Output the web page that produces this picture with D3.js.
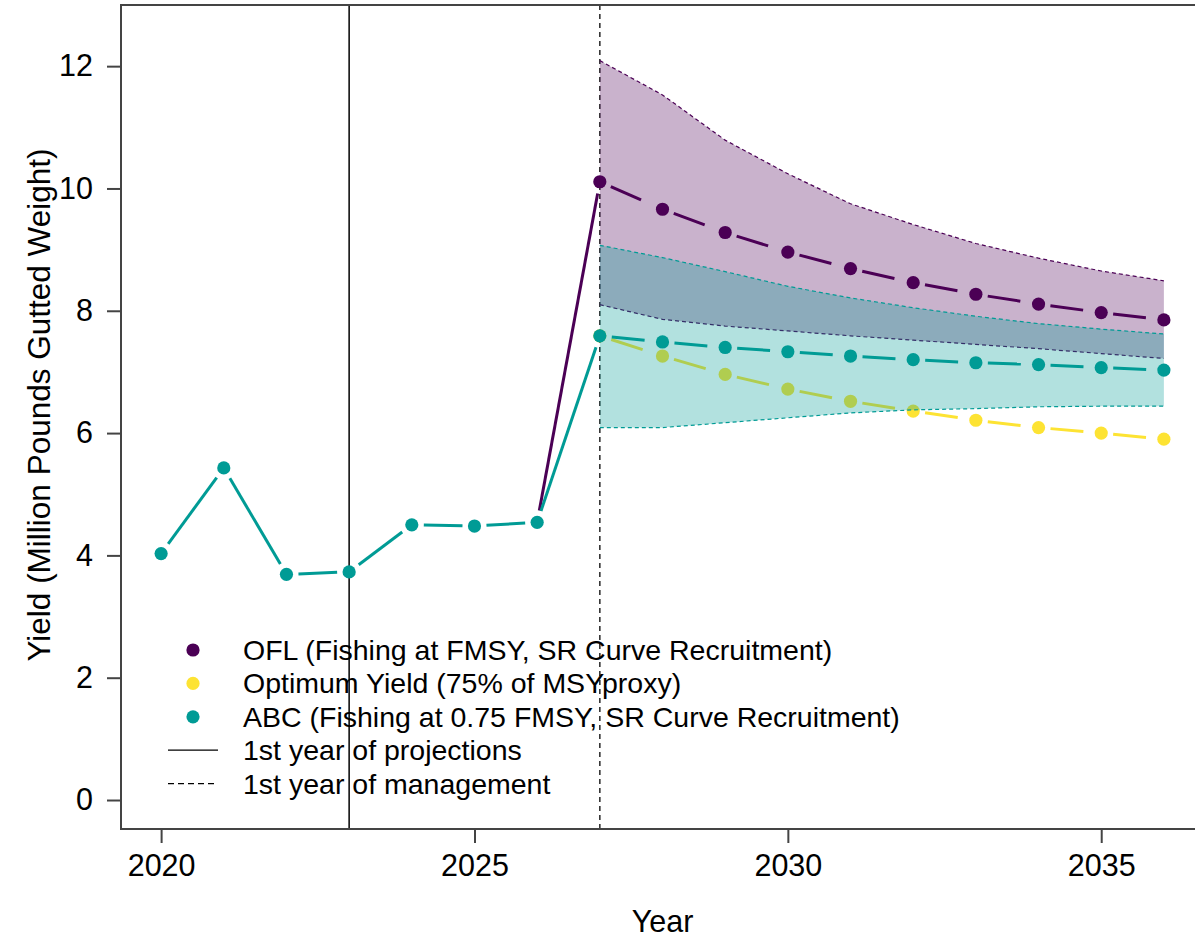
<!DOCTYPE html>
<html>
<head>
<meta charset="utf-8">
<script src="https://cdn.jsdelivr.net/npm/d3@7"></script>
<style>
  html, body { margin: 0; padding: 0; background: #fff; }
  svg { display: block; font-family: "Liberation Sans", Arial, sans-serif; }
</style>
</head>
<body>
<svg id="chart" width="1195" height="939"></svg>
<script>
// ---------------- data ----------------
const histYears = [2020, 2021, 2022, 2023, 2024, 2025, 2026];
const histYield = [4.03, 5.43, 3.69, 3.73, 4.50, 4.48, 4.54];

const projYears = [2027, 2028, 2029, 2030, 2031, 2032, 2033, 2034, 2035, 2036];
const oflYield  = [10.11, 9.66, 9.28, 8.96, 8.69, 8.46, 8.27, 8.11, 7.97, 7.85];
const oyYield   = [7.59, 7.26, 6.96, 6.72, 6.52, 6.36, 6.21, 6.09, 6.00, 5.90];
const abcYield  = [7.59, 7.49, 7.40, 7.33, 7.26, 7.20, 7.15, 7.12, 7.07, 7.03];

const oflUpper  = [12.09, 11.53, 10.79, 10.24, 9.75, 9.41, 9.10, 8.86, 8.65, 8.49];
const oflLower  = [8.10, 7.86, 7.75, 7.67, 7.59, 7.52, 7.45, 7.38, 7.30, 7.22];
const abcUpper  = [9.07, 8.87, 8.64, 8.40, 8.21, 8.05, 7.91, 7.79, 7.70, 7.62];
const abcLower  = [6.09, 6.09, 6.17, 6.25, 6.33, 6.38, 6.40, 6.43, 6.44, 6.44];

const firstProjYear = 2023;
const firstMgmtYear = 2027;

const xTicks = [2020, 2025, 2030, 2035];
const yTicks = [0, 2, 4, 6, 8, 10, 12];

const legendLabels = [
  "OFL (Fishing at FMSY, SR Curve Recruitment)",
  "Optimum Yield (75% of MSYproxy)",
  "ABC (Fishing at 0.75 FMSY, SR Curve Recruitment)",
  "1st year of projections",
  "1st year of management"
];

// ---------------- styles ----------------
const colPurple = "#4B0055";
const colTeal   = "#009B95";
const colYellow = "#FDE333";
const axisCol   = "#444444";

// ---------------- layout ----------------
const plot = { left: 121, right: 1204, top: 5, bottom: 829 };
const svg = d3.select("#chart");

const x = d3.scaleLinear().domain([2019.36, 2036.64]).range([plot.left, plot.right]);
const y = d3.scaleLinear().domain([-0.474, 13.0]).range([plot.bottom, plot.top]);

const gap = 12;  // gap around points (type = "b")
const ptR = 6.6;

function gappedSegments(g, xs, ys, color, width, dash) {
  for (let i = 0; i < xs.length - 1; i++) {
    const x0 = x(xs[i]), y0 = y(ys[i]), x1 = x(xs[i + 1]), y1 = y(ys[i + 1]);
    const dx = x1 - x0, dy = y1 - y0, L = Math.hypot(dx, dy);
    if (L <= 2 * gap) continue;
    const ux = dx / L, uy = dy / L;
    g.append("line")
      .attr("x1", x0 + ux * gap).attr("y1", y0 + uy * gap)
      .attr("x2", x1 - ux * gap).attr("y2", y1 - uy * gap)
      .attr("stroke", color).attr("stroke-width", width)
      .attr("stroke-dasharray", dash || null);
  }
}
function points(g, xs, ys, color) {
  g.selectAll(null).data(xs).enter().append("circle")
    .attr("cx", d => x(d)).attr("cy", (d, i) => y(ys[i]))
    .attr("r", ptR).attr("fill", color);
}

// vertical reference lines
svg.append("line")
  .attr("x1", x(firstProjYear)).attr("x2", x(firstProjYear))
  .attr("y1", plot.top).attr("y2", plot.bottom)
  .attr("stroke", "#000").attr("stroke-width", 1.5);
svg.append("line")
  .attr("x1", x(firstMgmtYear)).attr("x2", x(firstMgmtYear))
  .attr("y1", plot.top).attr("y2", plot.bottom)
  .attr("stroke", "#333").attr("stroke-width", 1.6)
  .attr("stroke-dasharray", "5,4");

const gLines = svg.append("g");
const dashProj = "33,15";

// OFL
gappedSegments(gLines, [histYears[histYears.length - 1], projYears[0]],
  [histYield[histYield.length - 1], oflYield[0]], colPurple, 3);
gappedSegments(gLines, projYears, oflYield, colPurple, 3, dashProj);
points(gLines, projYears, oflYield, colPurple);

// OY
gappedSegments(gLines, projYears, oyYield, colYellow, 3, dashProj);
points(gLines, projYears, oyYield, colYellow);

// ABC / historical
gappedSegments(gLines, histYears, histYield, colTeal, 3);
gappedSegments(gLines, [histYears[histYears.length - 1], projYears[0]],
  [histYield[histYield.length - 1], abcYield[0]], colTeal, 3);
gappedSegments(gLines, projYears, abcYield, colTeal, 3, dashProj);
points(gLines, histYears, histYield, colTeal);
points(gLines, projYears, abcYield, colTeal);

// bands
const area = (lo, hi) => d3.area()
  .x((d, i) => x(projYears[i]))
  .y0((d, i) => y(lo[i]))
  .y1((d, i) => y(hi[i]));
const line = vals => d3.line().x((d, i) => x(projYears[i])).y((d, i) => y(vals[i]));

function band(lo, hi, color) {
  svg.append("path").datum(projYears).attr("d", area(lo, hi))
    .attr("fill", color).attr("fill-opacity", 0.3).attr("stroke", "none");
  [lo, hi].forEach(v => {
    svg.append("path").datum(projYears).attr("d", line(v))
      .attr("fill", "none").attr("stroke", color).attr("stroke-width", 1.2)
      .attr("stroke-dasharray", "4,3");
  });
}
band(oflLower, oflUpper, colPurple);
band(abcLower, abcUpper, colTeal);

// ---------------- axes ----------------
const axisG = svg.append("g");
axisG.append("path")
  .attr("d", `M${plot.right},${plot.top}H${plot.left}V${plot.bottom}H${plot.right}`)
  .attr("fill", "none").attr("stroke", axisCol).attr("stroke-width", 2);

const yAxis = d3.axisLeft(y).tickValues(yTicks).tickSize(14).tickPadding(14)
  .tickFormat(d3.format("d"));
const gy = svg.append("g").attr("transform", `translate(${plot.left},0)`).call(yAxis);
gy.select(".domain").remove();
gy.selectAll(".tick line").attr("stroke", axisCol).attr("stroke-width", 2);
gy.selectAll(".tick text").attr("font-size", 30.5).attr("fill", "#000")
  .attr("font-family", "Liberation Sans, Arial, sans-serif");

const xAxis = d3.axisBottom(x).tickValues(xTicks).tickSize(14).tickPadding(11)
  .tickFormat(d3.format("d"));
const gx = svg.append("g").attr("transform", `translate(0,${plot.bottom})`).call(xAxis);
gx.select(".domain").remove();
gx.selectAll(".tick line").attr("stroke", axisCol).attr("stroke-width", 2);
gx.selectAll(".tick text").attr("font-size", 30.5).attr("fill", "#000")
  .attr("font-family", "Liberation Sans, Arial, sans-serif");

// axis titles
svg.append("text").attr("x", (plot.left + plot.right) / 2).attr("y", 932)
  .attr("text-anchor", "middle").attr("font-size", 30.5).text("Year");
svg.append("text")
  .attr("transform", `translate(50,405) rotate(-90)`)
  .attr("text-anchor", "middle").attr("font-size", 31.5)
  .text("Yield (Million Pounds Gutted Weight)");

// ---------------- legend ----------------
const lg = svg.append("g");
const legX = 193, legTextX = 243, legY0 = 650, legStep = 33.4;
const legendKinds = [
  { type: "pt", color: colPurple },
  { type: "pt", color: colYellow },
  { type: "pt", color: colTeal },
  { type: "line", dash: null },
  { type: "line", dash: "6,4" }
];
legendLabels.forEach((lab, i) => {
  const cy = legY0 + i * legStep;
  const k = legendKinds[i];
  if (k.type === "pt") {
    lg.append("circle").attr("cx", legX).attr("cy", cy).attr("r", ptR).attr("fill", k.color);
  } else {
    lg.append("line").attr("x1", 168).attr("x2", 218).attr("y1", cy).attr("y2", cy)
      .attr("stroke", "#000").attr("stroke-width", 1.3).attr("stroke-dasharray", k.dash);
  }
  lg.append("text").attr("x", legTextX).attr("y", cy + 10)
    .attr("font-size", 28.5).attr("fill", "#000").text(lab);
});
</script>
</body>
</html>
